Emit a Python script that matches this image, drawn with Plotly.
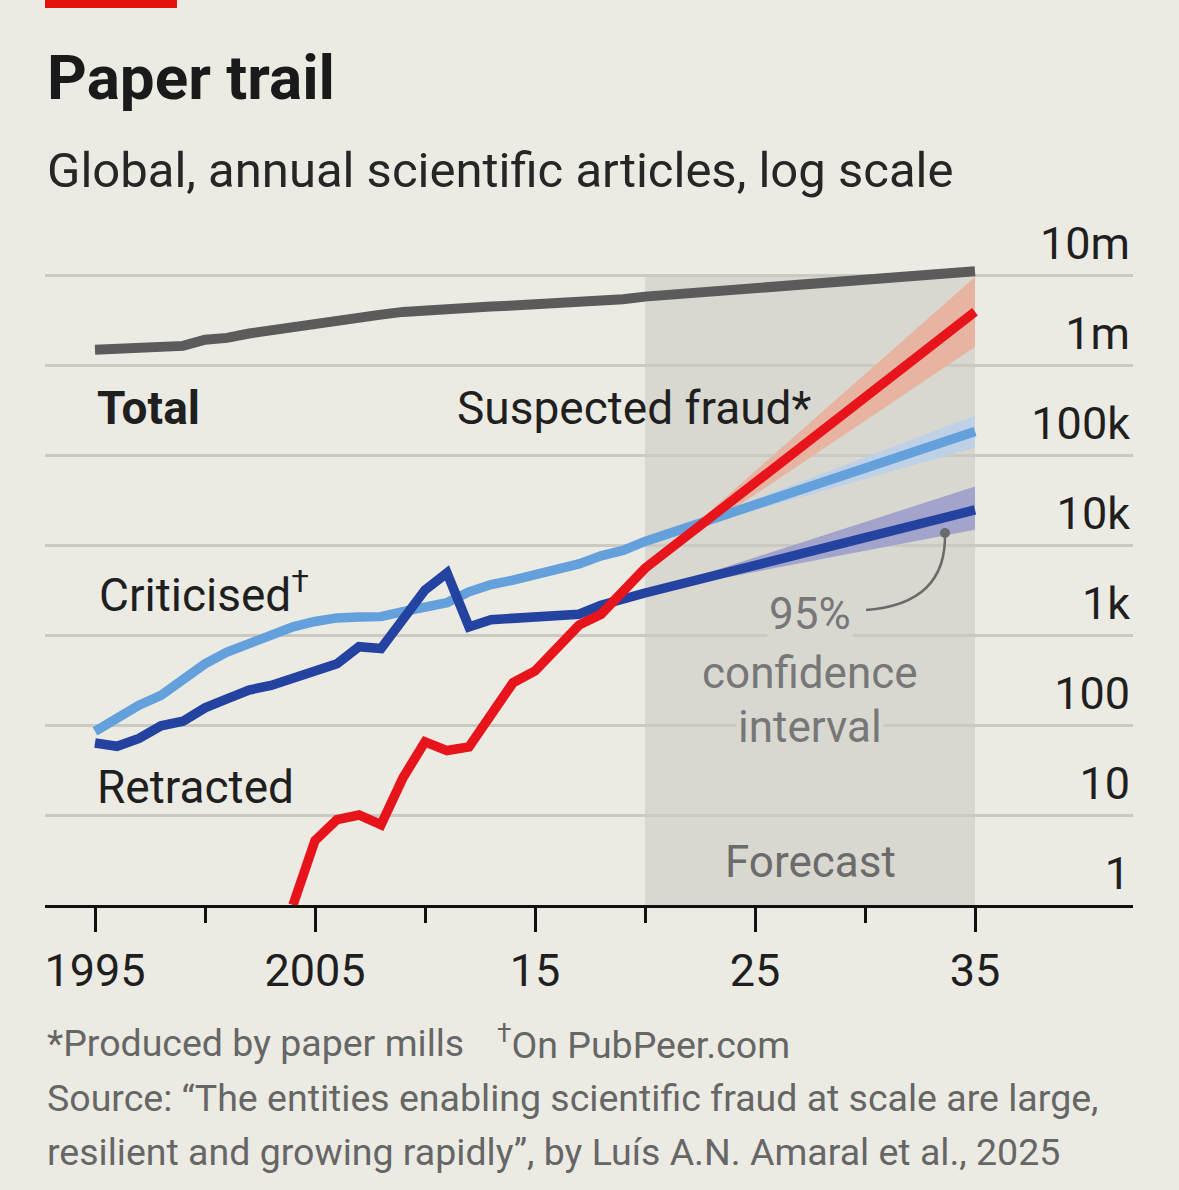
import plotly.graph_objects as go

FONT = "Roboto, Arial, sans-serif"
BG = "#ecebe3"
SHADE = "#d9d8d0"

# historical data (annual articles)
years = list(range(1995, 2021))
total = [1.48e6, 1.51e6, 1.55e6, 1.58e6, 1.63e6, 1.91e6, 2.00e6, 2.24e6, 2.45e6, 2.69e6,
         2.95e6, 3.16e6, 3.39e6, 3.63e6, 3.89e6, 4.07e6, 4.27e6, 4.37e6, 4.47e6, 4.57e6,
         4.68e6, 4.79e6, 4.90e6, 5.01e6, 5.37e6, 5.75e6]
criticised = [85, 123, 166, 214, 331, 479, 646, 813, 1000, 1230,
              1413, 1549, 1585, 1600, 1820, 2040, 2290, 3020, 3630, 4070,
              4680, 5250, 6170, 7590, 8710, 10960]
retracted = [63, 58, 71, 98, 110, 155, 195, 245, 275, 339,
             398, 479, 741, 708, 1514, 3162, 4898, 1230, 1480, 1510,
             1590, 1590, 1700, 2140, 2570, 2930]
fraud_years = list(range(2004, 2021))
fraud = [1, 5.2, 8.9, 10, 7.8, 26, 65, 52, 57, 129, 295, 398, 724, 1288, 1700, 2951, 5500]

# forecast (2020 -> 2035) with 95% confidence interval
fc_years = [2020, 2035]
total_fc = [5.75e6, 1.10e7]
crit_fc = [10960, 182000]
crit_hi = [10960, 275000]
crit_lo = [10960, 120000]
retr_fc = [2930, 24500]
retr_hi = [2930, 44700]
retr_lo = [2930, 14800]
fraud_fc = [5500, 3.9e6]
fraud_hi = [5500, 9.5e6]
fraud_lo = [5500, 1.58e6]

ytick_vals = [1, 10, 100, 1000, 1e4, 1e5, 1e6, 1e7]
ytick_text = ["1", "10", "100", "1k", "10k", "100k", "1m", "10m"]
xtick_vals = [1995, 2005, 2015, 2025, 2035]
xtick_text = ["1995", "2005", "15", "25", "35"]
xminor_vals = [2000, 2010, 2020, 2030]

fig = go.Figure()

# confidence bands
def band(hi, lo, color):
    fig.add_trace(go.Scatter(
        x=fc_years + fc_years[::-1], y=hi + lo[::-1],
        fill="toself", fillcolor=color, line=dict(width=0),
        mode="lines", hoverinfo="skip", showlegend=False,
    ))

band(crit_hi, crit_lo, "#bfd1e6")
band(retr_hi, retr_lo, "#a2a4cb")
band(fraud_hi, fraud_lo, "#e6b4a0")

def line(x, y, color, w=9.5):
    fig.add_trace(go.Scatter(
        x=x, y=y, mode="lines", line=dict(color=color, width=w),
        showlegend=False,
    ))

line(years + fc_years[1:], criticised + crit_fc[1:], "#64a0dc")
line(years + fc_years[1:], retracted + retr_fc[1:], "#2443a0")
line(fraud_years + fc_years[1:], fraud + fraud_fc[1:], "#e8141c")
line(years + fc_years[1:], total + total_fc[1:], "#5b5b5b", 10)

# forecast shading
fig.add_shape(type="rect", xref="x", yref="y", x0=2020, x1=2035, y0=1, y1=1e7,
              fillcolor=SHADE, line=dict(width=0), layer="below")

# red tab at top
fig.add_shape(type="rect", xref="paper", yref="paper", x0=0, x1=0.1213,
              y0=1.2944, y1=1.31, fillcolor="#e3120b", line=dict(width=0))

# connector for the CI label
fig.add_shape(type="path", xref="paper", yref="paper",
              path="M 0.8272,0.5368 Q 0.8290,0.4343 0.7546,0.4257",
              line=dict(color="#6b6b6b", width=2.5))
fig.add_shape(type="circle", xref="paper", yref="paper", xsizemode="pixel",
              ysizemode="pixel", xanchor=0.8272, yanchor=0.5368,
              x0=-5, x1=5, y0=-5, y1=5, fillcolor="#6b6b6b", line=dict(width=0))

def note(text, x, y, size=46, color="#1f1f1f", xanchor="left", bg=None, xref="x", yref="y"):
    fig.add_annotation(text=text, x=x, y=y, xref=xref, yref=yref, showarrow=False,
                       xanchor=xanchor, yanchor="middle", bgcolor=bg,
                       font=dict(family=FONT, size=size, color=color))

note("<b>Total</b>", 1995, 5.52)
note("Suspected fraud*", 2011.36, 5.52)
note("Criticised<sup>†</sup>", 1995.1, 3.48)
note("Retracted", 1995, 1.31)
note("95%", 2027.5, 3.23, size=44, color="#777777", xanchor="center", bg=SHADE)
note("confidence", 2027.5, 2.58, size=44, color="#777777", xanchor="center")
note("interval", 2027.5, 1.98, size=44, color="#777777", xanchor="center", bg=SHADE)
note("Forecast", 2027.5, 0.48, size=44, color="#6b6b6b", xanchor="center")

# titles and footnotes
note("<b>Paper trail</b>", 0, 1.1934, size=62, color="#1a1a1a", xref="paper", yref="paper")
note("Global, annual scientific articles, log scale", 0, 1.0606, size=49,
     color="#262626", xref="paper", yref="paper")
note("*Produced by paper mills", 0, -0.1991, size=37.5, color="#666666",
     xref="paper", yref="paper")
note("<sup>†</sup>On PubPeer.com", 0.4136, -0.1991, size=37.5, color="#666666",
     xref="paper", yref="paper")
note("Source: “The entities enabling scientific fraud at scale are large,", 0, -0.2785,
     size=37.5, color="#666666", xref="paper", yref="paper")
note("resilient and growing rapidly”, by Luís A.N. Amaral et al., 2025", 0, -0.3564,
     size=37.5, color="#666666", xref="paper", yref="paper")

fig.update_layout(
    width=1179, height=1190,
    margin=dict(l=45, r=46, t=212, b=285),
    paper_bgcolor=BG, plot_bgcolor=BG,
    font=dict(family=FONT, color="#1f1f1f"),
    xaxis=dict(
        range=[1992.7273, 2042.1818], showgrid=False, zeroline=False,
        showline=True, linecolor="#111111", linewidth=3,
        tickmode="array", tickvals=xtick_vals, ticktext=xtick_text,
        ticks="outside", ticklen=24, tickwidth=3, tickcolor="#111111",
        tickfont=dict(size=45, color="#1f1f1f"),
        minor=dict(tickmode="array", tickvals=xminor_vals, ticks="outside",
                   ticklen=15, tickwidth=3, tickcolor="#111111", showgrid=False),
    ),
    yaxis=dict(
        type="log", range=[0, 7.7], side="right",
        tickmode="array", tickvals=ytick_vals, ticktext=ytick_text,
        ticklabelposition="inside top", ticks="",
        showgrid=True, gridcolor="#cbcac2", gridwidth=3, zeroline=False,
        tickfont=dict(size=45, color="#1f1f1f"),
    ),
)

# page has a default body margin; drop it so the figure sits at the top-left corner
fig.write_html("out.html", config={"displayModeBar": False},
               post_script="document.body.style.margin='0';")
